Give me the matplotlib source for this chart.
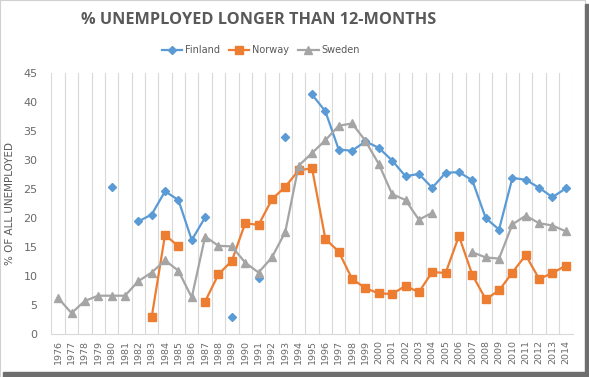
import matplotlib
matplotlib.use('Agg')
import matplotlib.pyplot as plt
from matplotlib.patches import Rectangle
import numpy as np

nan = np.nan

# Data
years = list(range(1976, 2015))

finland = [nan, nan, nan, nan, 25.3, nan, 19.4, 20.6, 24.6, 23.1,
           16.2, 20.1, nan, 2.9, nan, 9.6, nan, 34.0, nan, 41.3,
           38.4, 31.8, 31.6, 33.2, 32.1, 29.9, 27.2, 27.6, 25.2, 27.8,
           27.9, 26.5, 20.0, 18.0, 26.9, 26.6, 25.2, 23.6, 25.1]

norway = [nan, nan, nan, nan, nan, nan, nan, 2.9, 17.1, 15.1,
          nan, 5.6, 10.3, 12.6, 19.1, 18.8, 23.2, 25.4, 28.2, 28.6,
          16.4, 14.2, 9.5, 7.9, 7.0, 6.9, 8.3, 7.2, 10.7, 10.5,
          16.9, 10.2, 6.0, 7.5, 10.6, 13.6, 9.5, 10.5, 11.8]

sweden = [6.2, 3.6, 5.7, 6.6, 6.6, 6.6, 9.1, 10.6, 12.7, 10.9,
          6.3, 16.8, 15.2, 15.1, 12.3, 10.6, 13.2, 17.6, 29.0, 31.2,
          33.4, 35.9, 36.3, 33.3, 29.3, 24.1, 23.1, 19.7, 20.9, nan,
          nan, 14.1, 13.2, 13.0, 18.9, 20.4, 19.1, 18.7, 17.7]

txt = '#595959'

fig = plt.figure(figsize=(5.89, 3.77), dpi=100)
ax = fig.add_axes([0.0874, 0.1141, 0.8846, 0.6923])

ax.plot(years, finland, color='#5B9BD5', lw=1.6, marker='D', ms=4.5, label='Finland')
ax.plot(years, norway, color='#ED7D31', lw=1.6, marker='s', ms=5.4, label='Norway')
ax.plot(years, sweden, color='#A5A5A5', lw=1.6, marker='^', ms=5.8, label='Sweden')

ax.set_xlim(1975.5, 2014.5)
ax.set_ylim(0, 45)
ax.set_yticks(range(0, 50, 5))
ax.set_xticks(years)
ax.set_xticklabels([str(y) for y in years], rotation=90, fontsize=6.8, color='#6a6a6a')
ax.set_xticks(np.arange(1975.5, 2015, 1), minor=True)
ax.grid(True, which='minor', axis='x', color='#D9D9D9', lw=0.8)
ax.tick_params(axis='y', length=0, pad=10, labelsize=8, labelcolor='#6a6a6a')
ax.tick_params(axis='x', which='both', length=0, pad=4)

for s in ['top', 'right', 'left']:
    ax.spines[s].set_visible(False)
ax.spines['bottom'].set_color('#D9D9D9')

ax.set_ylabel('% OF ALL UNEMPLOYED', fontsize=7.5, color=txt, labelpad=6)

fig.text(0.439, 0.947, '% UNEMPLOYED LONGER THAN 12-MONTHS', ha='center', va='center',
         fontsize=11.7, fontweight='bold', color=txt, family='Open Sans')

fig.legend(loc='center', bbox_to_anchor=(0.443, 0.867), ncol=3, frameon=False,
           fontsize=7, labelcolor=txt, handlelength=2.1, handletextpad=0.3,
           columnspacing=0.9)

# screenshot frame + shadow
fig.patches.append(Rectangle((0.0, 0.0), 0.9932, 0.999, fill=False, ec='#D0D0D0',
                             lw=0.8, transform=fig.transFigure))
fig.patches.append(Rectangle((0.9932, 0.0), 0.0068, 0.99, color='#6E6E6E',
                             transform=fig.transFigure))
fig.patches.append(Rectangle((0.005, 0.0), 0.99, 0.014, color='#6E6E6E',
                             transform=fig.transFigure))

fig.savefig('out.png', dpi=100)
